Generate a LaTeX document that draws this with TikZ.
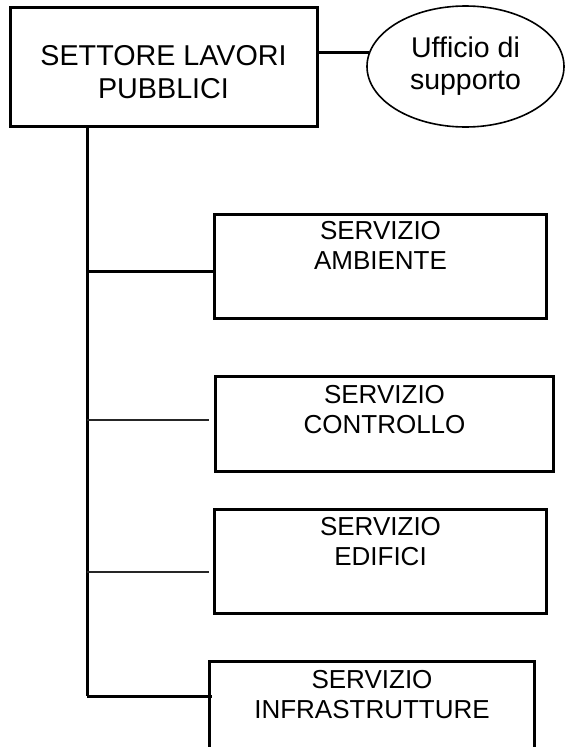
\documentclass[tikz,border=0pt]{standalone}
\usepackage{fontspec}
\setmainfont{Liberation Sans}
\usetikzlibrary{shapes.geometric}
\tikzset{
    MainBox/.style={draw, line width=3pt, minimum width=307pt, minimum height=119pt, inner sep=0pt},
    ServiceBox/.style={draw, line width=3pt, inner sep=0pt, anchor=north west},
    SupportShape/.style={draw, ellipse, line width=1.6pt, minimum width=197pt, minimum height=121pt, inner sep=0pt},
    MainText/.style={align=center, inner sep=0pt, font=\fontsize{28.7}{33}\selectfont},
    ServiceText/.style={align=center, inner sep=0pt, anchor=north, font=\fontsize{26}{30}\selectfont},
    SupportText/.style={align=center, inner sep=0pt, font=\fontsize{28.5}{32}\selectfont},
    TrunkLine/.style={line width=3pt},
    ThinLine/.style={line width=1.6pt, black!85}
}

\begin{document}
\begin{tikzpicture}[x=1pt, y=-1pt]
    \useasboundingbox (0,0) rectangle (565,747);

    % settore e ufficio di supporto
    \node[MainBox] (settore) at (163.5,66.5) {};
    \node[MainText, anchor=north] (settoreText) at ([yshift=-40pt]settore.north) {SETTORE LAVORI\\PUBBLICI};
    \node[SupportShape] (supporto) at (465.5,66.5) {};
    \node[SupportText] (supportoText) at (supporto.center) {Ufficio di\\supporto};
    \draw[TrunkLine] (settore.east |- supporto.172.5) -- (supporto.172.5);

    % servizi
    \node[ServiceBox, minimum width=332pt, minimum height=104pt] (ambiente) at (213,213) {};
    \node[ServiceText] (ambienteText) at ([yshift=-8pt]ambiente.north) {SERVIZIO\\AMBIENTE};
    \node[ServiceBox, minimum width=338pt, minimum height=95pt] (controllo) at (214,375) {};
    \node[ServiceText] (controlloText) at ([yshift=-10pt]controllo.north) {SERVIZIO\\CONTROLLO};
    \node[ServiceBox, minimum width=332pt, minimum height=104pt] (edifici) at (213,508) {};
    \node[ServiceText] (edificiText) at ([yshift=-9pt]edifici.north) {SERVIZIO\\EDIFICI};
    \node[ServiceBox, minimum width=325pt, minimum height=110pt] (infrastrutture) at (208,660) {};
    \node[ServiceText] (infrastruttureText) at ([yshift=-10pt]infrastrutture.north) {SERVIZIO\\INFRASTRUTTURE};

    % linea verticale e rami
    \coordinate (jAmbiente) at (87,271);
    \coordinate (jControllo) at (87,420);
    \coordinate (jEdifici) at (87,572);
    \coordinate (jInfra) at (87,696);
    \draw[TrunkLine] (settore.south -| jInfra) -- (jInfra);
    \draw[TrunkLine] (jAmbiente) -- (jAmbiente -| ambiente.west);
    \draw[ThinLine, shorten >=5pt] (jControllo) -- (jControllo -| controllo.west);
    \draw[ThinLine, shorten >=4pt] (jEdifici) -- (jEdifici -| edifici.west);
    \draw[TrunkLine, shorten >=-4pt] (jInfra) -- (jInfra -| infrastrutture.west);
\end{tikzpicture}
\end{document}
